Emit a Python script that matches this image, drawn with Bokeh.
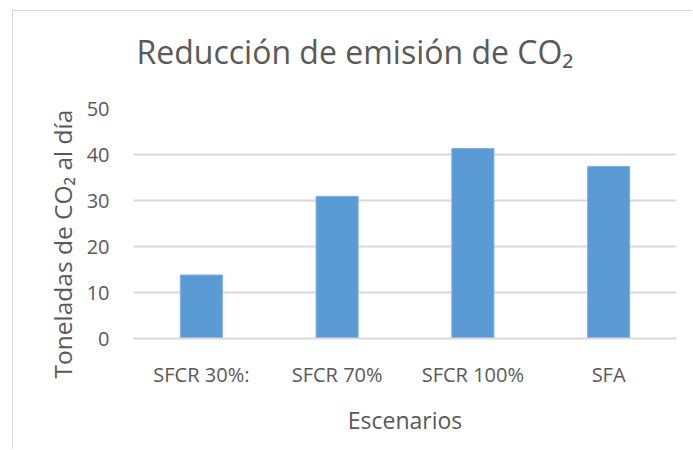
from bokeh.plotting import figure
from bokeh.models import Title, FactorRange, Range1d, SingleIntervalTicker
from bokeh.embed import file_html
from bokeh.resources import INLINE

categories = ["SFCR 30%:", "SFCR 70%", "SFCR 100%", "SFA"]
values = [13.8, 30.9, 41.3, 37.4]
title_text = "Reducción de emisión de CO₂"
y_label = "Toneladas de CO₂ al día"
x_label = "Escenarios"

FONT = "Open Sans"
GREY = "#595959"
GRID = "#d9d9d9"
BAR = "#5b9bd5"

p = figure(
    width=680, height=439, title=None,
    x_range=FactorRange(*categories, range_padding=0),
    y_range=Range1d(0, 50),
    output_backend="svg", toolbar_location=None,
    min_border_left=120, min_border_right=17,
    min_border_top=97, min_border_bottom=112,
    styles={"margin-left": "12px", "margin-top": "10px",
            "border-left": "1px solid #d9d9d9", "border-top": "1px solid #d9d9d9"},
)
p.outline_line_color = None
p.background_fill_color = "white"
p.border_fill_color = "white"

p.vbar(x=categories, top=values, width=0.31, color=BAR, line_color="#7eb0de", line_width=1)

# spacer between frame and title, then the main title
p.add_layout(Title(text=" ", text_font_size="1px", standoff=33), "above")
p.add_layout(Title(text=title_text, text_font=FONT, text_font_size="32px",
                   text_font_style="normal", text_color=GREY, align="left",
                   offset=3, standoff=0), "above")

# y axis
yax = p.yaxis[0]
yax.ticker = SingleIntervalTicker(interval=10)
yax.axis_line_color = None
yax.major_tick_line_color = None
yax.minor_tick_line_color = None
yax.major_label_text_font = FONT
yax.major_label_text_font_size = "20px"
yax.major_label_text_color = GREY
yax.major_label_standoff = 18

p.add_layout(Title(text=y_label, text_font=FONT, text_font_size="24.5px",
                   text_font_style="normal", text_color=GREY, align="left",
                   offset=-40, standoff=10), "left")

# x axis
xax = p.xaxis[0]
xax.axis_line_color = GRID
xax.axis_line_width = 2
xax.major_tick_line_color = None
xax.minor_tick_line_color = None
xax.major_label_text_font = FONT
xax.major_label_text_font_size = "20px"
xax.major_label_text_color = GREY
xax.major_label_standoff = 16
xax.axis_label = x_label
xax.axis_label_text_font = FONT
xax.axis_label_text_font_size = "23px"
xax.axis_label_text_font_style = "normal"
xax.axis_label_text_color = GREY
xax.axis_label_standoff = 13

p.xgrid.grid_line_color = None
p.ygrid.grid_line_color = GRID
p.ygrid.grid_line_width = 2

open("out.html", "w").write(file_html(p, INLINE))
